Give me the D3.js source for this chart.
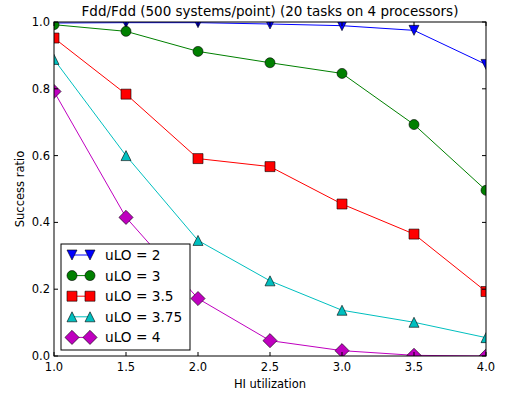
<!DOCTYPE html>
<html>
<head>
<meta charset="utf-8">
<script src="https://cdn.jsdelivr.net/npm/d3@7"></script>
<style>
  body { margin: 0; background: #fff; }
  svg { display: block; font-family: "DejaVu Sans", sans-serif; }
</style>
</head>
<body>
<svg id="chart" width="505" height="397"></svg>
<script>
// HI utilization values (x)
const hiUtil = [1.0, 1.5, 2.0, 2.5, 3.0, 3.5, 4.0];

// success ratio per uLO setting
const ulo2 = [0.997, 0.998, 0.998, 0.994, 0.989, 0.975, 0.873];
const ulo3 = [0.992, 0.972, 0.912, 0.878, 0.846, 0.693, 0.496];
const ulo35 = [0.952, 0.784, 0.591, 0.567, 0.455, 0.365, 0.193];
const ulo375 = [0.888, 0.600, 0.346, 0.225, 0.137, 0.101, 0.055];
const ulo4 = [0.792, 0.415, 0.172, 0.046, 0.016, 0.002, 0.0];

const seriesNames = ['uLO = 2', 'uLO = 3', 'uLO = 3.5', 'uLO = 3.75', 'uLO = 4'];
const xTicks = [1.0, 1.5, 2.0, 2.5, 3.0, 3.5, 4.0];
const yTicks = [0.0, 0.2, 0.4, 0.6, 0.8, 1.0];

const series = [
  { name: seriesNames[0], values: ulo2, color: '#0000ff', marker: 'tridown' },
  { name: seriesNames[1], values: ulo3, color: '#008000', marker: 'circle' },
  { name: seriesNames[2], values: ulo35, color: '#ff0000', marker: 'square' },
  { name: seriesNames[3], values: ulo375, color: '#00bfbf', marker: 'triup' },
  { name: seriesNames[4], values: ulo4, color: '#bf00bf', marker: 'diamond' }
];

const svg = d3.select('#chart'),
  margin = {top: 22, right: 19, bottom: 41, left: 54},
  width = +svg.attr('width') - margin.left - margin.right,
  height = +svg.attr('height') - margin.top - margin.bottom;

const x = d3.scaleLinear().domain([1, 4]).range([0, width]);
const y = d3.scaleLinear().domain([0, 1]).range([height, 0]);

// marker shapes, size s in px
const ms = 10;
function markerPath(type, s) {
  const h = s / 2;
  switch (type) {
    case 'circle':
      return 'M' + h + ',0A' + h + ',' + h + ' 0 1,1 ' + (-h) + ',0A' + h + ',' + h + ' 0 1,1 ' + h + ',0Z';
    case 'square':
      return 'M' + (-h) + ',' + (-h) + 'H' + h + 'V' + h + 'H' + (-h) + 'Z';
    case 'triup':
      return 'M0,' + (-h) + 'L' + h + ',' + h + 'L' + (-h) + ',' + h + 'Z';
    case 'tridown':
      return 'M0,' + h + 'L' + h + ',' + (-h) + 'L' + (-h) + ',' + (-h) + 'Z';
    case 'diamond': {
      const d = h * Math.SQRT2;
      return 'M0,' + (-d) + 'L' + d + ',0L0,' + d + 'L' + (-d) + ',0Z';
    }
  }
}

svg.append('defs').append('clipPath').attr('id', 'plotclip')
  .append('rect').attr('width', width).attr('height', height);

const g = svg.append('g')
  .attr('transform', 'translate(' + margin.left + ',' + margin.top + ')');

const plot = g.append('g').attr('clip-path', 'url(#plotclip)');

const line = d3.line()
  .x(function(d, i) { return x(hiUtil[i]); })
  .y(function(d) { return y(d); });

series.forEach(function(s) {
  plot.append('path')
    .datum(s.values)
    .attr('fill', 'none')
    .attr('stroke', s.color)
    .attr('stroke-width', 1)
    .attr('d', line);
  plot.selectAll(null)
    .data(s.values)
    .enter().append('path')
      .attr('transform', function(d, i) { return 'translate(' + x(hiUtil[i]) + ',' + y(d) + ')'; })
      .attr('d', markerPath(s.marker, ms))
      .attr('fill', s.color)
      .attr('stroke', '#000')
      .attr('stroke-width', 0.6);
});

// frame
g.append('rect')
  .attr('width', width).attr('height', height)
  .attr('fill', 'none').attr('stroke', '#000').attr('stroke-width', 1);

// ticks (inward, all four sides)
const tl = 4;
xTicks.forEach(function(t) {
  g.append('line').attr('x1', x(t)).attr('x2', x(t)).attr('y1', height).attr('y2', height - tl).attr('stroke', '#000');
  g.append('line').attr('x1', x(t)).attr('x2', x(t)).attr('y1', 0).attr('y2', tl).attr('stroke', '#000');
  g.append('text')
    .attr('x', x(t)).attr('y', height + 15)
    .attr('text-anchor', 'middle')
    .attr('font-size', 11.5)
    .text(d3.format('.1f')(t));
});
yTicks.forEach(function(t) {
  g.append('line').attr('x1', 0).attr('x2', tl).attr('y1', y(t)).attr('y2', y(t)).attr('stroke', '#000');
  g.append('line').attr('x1', width).attr('x2', width - tl).attr('y1', y(t)).attr('y2', y(t)).attr('stroke', '#000');
  g.append('text')
    .attr('x', -4).attr('y', y(t) + 4)
    .attr('text-anchor', 'end')
    .attr('font-size', 11.5)
    .text(d3.format('.1f')(t));
});

// labels
svg.append('text')
  .attr('x', margin.left + width / 2).attr('y', 16)
  .attr('text-anchor', 'middle').attr('font-size', 13.5)
  .text('Fdd/Fdd (500 systems/point) (20 tasks on 4 processors)');
svg.append('text')
  .attr('x', margin.left + width / 2).attr('y', 388)
  .attr('text-anchor', 'middle').attr('font-size', 11.5)
  .text('HI utilization');
svg.append('text')
  .attr('transform', 'translate(24,' + (margin.top + height / 2) + ') rotate(-90)')
  .attr('text-anchor', 'middle').attr('font-size', 11.5)
  .text('Success ratio');

// legend
const lg = g.append('g').attr('transform', 'translate(7,222)');
lg.append('rect')
  .attr('width', 129).attr('height', 106)
  .attr('fill', '#fff').attr('stroke', '#000').attr('stroke-width', 1);
series.forEach(function(s, i) {
  const ly = 11 + i * 20.6;
  lg.append('line')
    .attr('x1', 11).attr('x2', 29).attr('y1', ly).attr('y2', ly)
    .attr('stroke', s.color).attr('stroke-width', 1);
  [11, 29].forEach(function(mx) {
    lg.append('path')
      .attr('transform', 'translate(' + mx + ',' + ly + ')')
      .attr('d', markerPath(s.marker, ms))
      .attr('fill', s.color).attr('stroke', '#000').attr('stroke-width', 0.6);
  });
  lg.append('text')
    .attr('x', 44).attr('y', ly + 5)
    .attr('font-size', 13.7)
    .text(s.name);
});
</script>
</body>
</html>
